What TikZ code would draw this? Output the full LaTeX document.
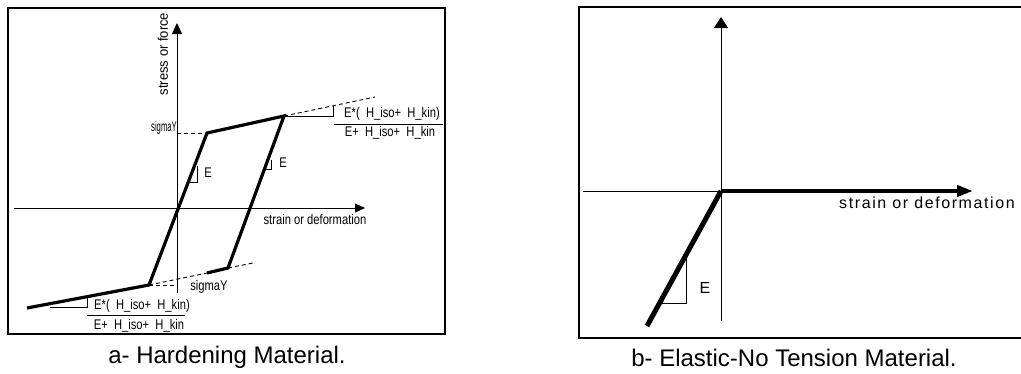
\documentclass[tikz,border=0pt]{standalone}
\usepackage{fontspec}
\setmainfont{Liberation Sans}
\newfontfamily\labfont[FakeStretch=0.8]{Liberation Sans}
\newfontfamily\labwide[FakeStretch=0.93]{Liberation Sans}
\newfontfamily\labnarrow[FakeStretch=0.55]{Liberation Sans}
\newfontfamily\widefont[LetterSpace=10]{Liberation Sans}
\usetikzlibrary{arrows.meta}
\begin{document}
\begin{tikzpicture}[x=1pt,y=-1pt,
  thinline/.style={line width=0.9pt},
  thickline/.style={line width=3.2pt, line join=miter},
  heavyline/.style={line width=4.5pt},
  dashline/.style={line width=0.9pt, dash pattern=on 4pt off 3pt},
  frame/.style={line width=2pt},
  axisarrow/.style={-{Triangle[length=11pt,width=10pt]}},
  lab/.style={inner sep=0pt, font=\labfont\fontsize{14}{16}\selectfont},
  labw/.style={inner sep=0pt, font=\labwide\fontsize{14}{16}\selectfont},
  labn/.style={inner sep=0pt, font=\labnarrow\fontsize{14}{16}\selectfont},
  widelab/.style={inner sep=0pt, font=\widefont\fontsize{16}{18}\selectfont},
  caption/.style={inner sep=0pt, font=\fontsize{24}{28}\selectfont}]
\useasboundingbox (0,0) rectangle (1021,373);
\fill[white] (0,0) rectangle (1021,373);

% ---------------- panel a ----------------
\draw[frame] (8,8) rectangle (445,334);
\coordinate (Oa) at (177,208);
\coordinate (yaB) at (177,293);
\coordinate (yaT) at (177,23);
\coordinate (xaL) at (14,208);
\coordinate (xaR) at (365,208);
\draw[thinline, axisarrow] (yaB) -- (yaT);
\draw[thinline, -{Triangle[length=10pt,width=9pt]}] (xaL) -- (xaR);

\coordinate (P0) at (27,308);
\coordinate (A) at (149,285);
\coordinate (B) at (207,133);
\coordinate (C) at (284,116);
\coordinate (D) at (228,268);
\coordinate (Ee) at (207,273);
\draw[thickline] (P0) -- (A) -- (B) -- (C) -- (D) -- (Ee);

% dashed guides
\coordinate (sYt) at (177,133);
\coordinate (sYb) at (177,285);
\coordinate (Cx) at (375,97);
\coordinate (Dx) at (253,263);
\draw[dashline] (sYt) -- (B);
\draw[dashline] (C) -- (Cx);
\draw[dashline] (A) -- (sYb);
\draw[dashline] (A) -- (Ee);
\draw[dashline] (D) -- (Dx);

% slope triangles
\coordinate (t1a) at (333,116);
\coordinate (t1b) at (333,106);
\draw[thinline] (C) -- (t1a) -- (t1b);
\coordinate (t2a) at (50,307);
\coordinate (t2b) at (87,307);
\coordinate (t2c) at (87,297);
\draw[thinline] (t2a) -- (t2b) -- (t2c);
\coordinate (t3a) at (197,166);
\coordinate (t3b) at (197,182);
\coordinate (t3c) at (189,182);
\draw[thinline] (t3a) -- (t3b) -- (t3c);
\coordinate (t4a) at (271,160);
\coordinate (t4b) at (271,169);
\coordinate (t4c) at (265,169);
\draw[thinline] (t4a) -- (t4b) -- (t4c);

% fraction bars
\coordinate (f1L) at (334,124);
\coordinate (f1R) at (443,124);
\draw[thinline] (f1L) -- (f1R);
\coordinate (f2L) at (87,315);
\coordinate (f2R) at (185,315);
\draw[thinline] (f2L) -- (f2R);

% labels
\node[labw, rotate=90] (lblStress) at (163,54) {stress or force};
\node[lab] (lblStrainA) at (315,219) {strain or deformation};
\node[labn] (lblSigTop) at (164,128) {sigmaY};
\node[lab] (lblSigBot) at (209,287) {sigmaY};
\node[lab] (lblEa1) at (208,173) {E};
\node[lab] (lblEa2) at (283,163) {E};
\node[lab] (numTop) at (392,114) {E*(\ \ H\_iso+\ \ H\_kin)};
\node[lab] (denTop) at (390,133) {E+\ \ H\_iso+\ \ H\_kin};
\node[lab] (numBot) at (142,306) {E*(\ \ H\_iso+\ \ H\_kin)};
\node[lab] (denBot) at (139,326) {E+\ \ H\_iso+\ \ H\_kin};
\node[caption] (capA) at (227,357) {a- Hardening Material.};

% ---------------- panel b ----------------
\draw[frame] (579,7) rectangle (1030,338);
\coordinate (Ob) at (721,191);
\coordinate (ybB) at (721,321);
\coordinate (ybT) at (721,17);
\coordinate (xbL) at (583,191);
\coordinate (xbR) at (973,191);
\draw[thinline, -{Triangle[length=11pt,width=14pt]}] (ybB) -- (ybT);
\draw[thinline] (xbL) -- (Ob);
\draw[heavyline, -{Triangle[length=16pt,width=11pt]}] (Ob) -- (xbR);
\coordinate (Lb) at (647,326);
\draw[line width=5pt] (Ob) -- (Lb);
\coordinate (t5a) at (660,303);
\coordinate (t5b) at (686,303);
\coordinate (t5c) at (686,255);
\draw[thinline] (t5a) -- (t5b) -- (t5c);
\node[widelab] (lblStrainB) at (927,203) {strain or deformation};
\node[widelab] (lblEb) at (705,288) {E};
\node[caption] (capB) at (794,358) {b- Elastic-No Tension Material.};
\end{tikzpicture}
\end{document}
